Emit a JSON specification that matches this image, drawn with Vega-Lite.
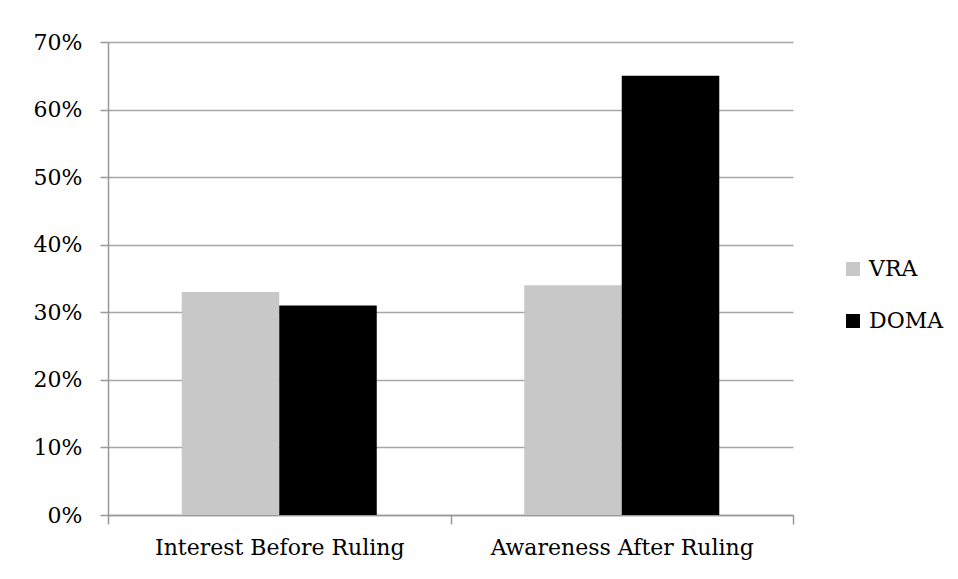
{
  "$schema": "https://vega.github.io/schema/vega-lite/v6.json",
  "autosize": "none",
  "width": 685,
  "height": 473,
  "padding": {"left": 108, "top": 42, "right": 165, "bottom": 64},
  "background": "white",
  "data": {
    "values": [
      {"category": "Interest Before Ruling", "series": "VRA", "value": 0.33},
      {"category": "Interest Before Ruling", "series": "DOMA", "value": 0.31},
      {"category": "Awareness After Ruling", "series": "VRA", "value": 0.34},
      {"category": "Awareness After Ruling", "series": "DOMA", "value": 0.65}
    ]
  },
  "mark": {"type": "bar"},
  "encoding": {
    "x": {
      "field": "category",
      "type": "nominal",
      "sort": ["Interest Before Ruling", "Awareness After Ruling"],
      "scale": {"paddingInner": 0, "paddingOuter": 0},
      "axis": {
        "title": null,
        "labelAngle": 0,
        "labelLimit": 0,
        "tickBand": "extent",
        "tickSize": 9,
        "labelPadding": 13
      }
    },
    "xOffset": {
      "field": "series",
      "type": "nominal",
      "sort": ["VRA", "DOMA"],
      "scale": {"paddingInner": 0, "paddingOuter": 0.756}
    },
    "y": {
      "field": "value",
      "type": "quantitative",
      "scale": {"domain": [0, 0.7]},
      "axis": {
        "title": null,
        "format": ".0%",
        "values": [0, 0.1, 0.2, 0.3, 0.4, 0.5, 0.6, 0.7],
        "tickSize": 8,
        "labelPadding": 18,
        "grid": true
      }
    },
    "color": {
      "field": "series",
      "type": "nominal",
      "scale": {"domain": ["VRA", "DOMA"], "range": ["#c8c8c8", "#000000"]},
      "legend": {
        "title": null,
        "orient": "none",
        "legendX": 734,
        "legendY": 216,
        "symbolType": "square",
        "symbolSize": 196,
        "symbolStrokeWidth": 0,
        "labelOffset": 5,
        "rowPadding": 30,
        "labelFontSize": 22,
        "labelLimit": 0,
        "labelFont": "DejaVu Serif, Liberation Serif, serif",
        "labelColor": "#000000"
      }
    }
  },
  "config": {
    "view": {"stroke": null},
    "axis": {
      "labelFont": "DejaVu Serif, Liberation Serif, serif",
      "labelFontSize": 22,
      "labelColor": "#000000",
      "domainColor": "#999999",
      "domainWidth": 1.5,
      "tickColor": "#999999",
      "tickWidth": 1.5,
      "gridColor": "#a6a6a6",
      "gridWidth": 1.5
    },
    "axisX": {"grid": false}
  }
}
